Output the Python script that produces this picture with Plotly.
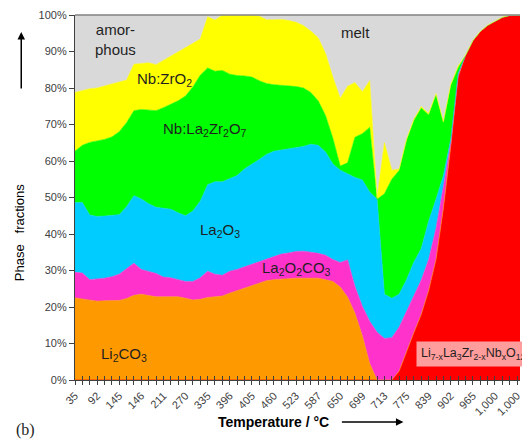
import plotly.graph_objects as go

# Phase fractions (%) at each measured step, bottom phase first
llzo = [0]*44 + [2.5, 8, 13, 18, 24.5, 33, 47, 64, 83, 89, 93, 95.5, 97.2, 98.3, 99.4, 99.9, 100, 100]

li2co3 = [22.5, 22.2, 21.8, 21.6, 21.7, 21.8, 21.8, 22.3, 23.2, 23.5,
          23.2, 22.8, 22.8, 22.9, 22.8, 22.4, 21.9, 22.1, 22.6, 22.8,
          23.0, 23.8, 24.5, 25.2, 25.9, 26.6, 27.2, 27.5, 27.7, 27.9,
          27.9, 27.9, 27.9, 27.9, 27.5, 27.0, 25.5, 22.7, 18.3, 12.1,
          4.5] + [0]*21

la2o2co3 = [7.0, 7.1, 5.7, 6.0, 6.2, 6.5, 7.2, 8.2, 8.8, 6.8,
            6.5, 6.4, 5.4, 5.1, 4.7, 4.6, 5.1, 5.9, 7.2, 6.2,
            5.7, 6.0, 5.8, 5.8, 5.8, 6.0, 6.1, 6.5, 6.8, 6.9,
            7.3, 7.4, 7.2, 6.8, 6.7, 6.0, 6.7, 10.2, 7.3, 8.1,
            11.6, 13.1, 11.4, 11.6, 12.0, 10.8, 10.3, 9.4, 8.5, 8.5,
            6.0, 1.0, 0.5] + [0]*9

la2o3 = [19.1, 19.3, 17.7, 17.2, 17.0, 16.8, 16.3, 17.0, 18.5, 19.3,
         18.6, 18.1, 18.8, 18.8, 18.3, 18.0, 19.3, 21.0, 23.7, 25.3,
         25.6, 25.4, 25.7, 26.8, 27.3, 27.8, 28.5, 28.7, 28.5, 28.5,
         28.4, 28.7, 29.5, 29.6, 28.3, 26.2, 25.3, 23.6, 29.9, 34.6,
         35.4, 36.4, 12.1, 10.8, 9.0, 8.7, 9.0, 8.6, 10.5, 8.0,
         3.0, 1.0, 0.5] + [0]*9

la2zr2o7 = [14.1, 15.7, 19.9, 20.6, 21.0, 21.5, 22.7, 23.0, 23.3, 24.5,
            25.7, 26.5, 27.6, 28.8, 30.7, 32.8, 34.0, 34.5, 32.0, 30.3,
            30.5, 28.6, 27.4, 25.5, 24.0, 21.6, 19.4, 18.2, 17.8, 17.3,
            16.8, 16.0, 14.2, 12.2, 10.0, 7.0, 1.1, 3.0, 11.0, 12.7,
            17.7, 0, 27.5, 32.6, 33.9, 38.1, 38.8, 38.5, 29.1, 28.6,
            14.4, 14.6, 1.5] + [0]*9

zro2 = [16.1, 15.1, 14.7, 14.6, 14.6, 14.4, 13.5, 11.7, 12.7, 12.7,
        12.9, 12.6, 13.0, 13.2, 13.5, 13.2, 12.0, 9.9, 14.0, 14.0,
        15.2, 16.2, 16.6, 16.7, 17.0, 17.7, 17.5, 17.8, 18.0, 17.9,
        17.6, 17.1, 16.8, 17.3, 17.0, 16.8, 18.6, 21.0, 15.0, 11.5,
        12.8, 0.5, 14.0, 2.5, 0.4, 0.4, 0.4, 0.4, 0.4, 0.4,
        0.4, 0.4, 0.5] + [0]*9

amorphous = [21.2, 20.6, 20.2, 20.0, 19.5, 19.0, 18.5, 17.8, 13.5, 13.2,
             13.1, 13.6, 12.4, 11.2, 10.0, 9.0, 7.7, 6.6, 0.5, 1.4,
             0, 0, 0, 0, 0, 0.3, 1.3, 1.3, 1.2, 1.5,
             2.0, 2.9, 4.4, 6.2, 10.5, 17.0, 22.8, 19.5, 18.5, 21.0,
             18.0, 50.0, 35.0, 42.5, 42.2, 34.0, 28.5, 25.1, 27.0, 21.5,
             29.2, 19.0, 14.0, 11.0, 7.0, 4.5, 2.8, 1.7, 0.6, 0.1, 0, 0]

# Temperature labels shown on every third step
temp_labels = ["35", "92", "145", "146", "211", "270", "335", "396", "405", "460",
               "523", "587", "650", "699", "713", "775", "839", "902", "965",
               "1,000", "1,000"]

steps = list(range(len(amorphous)))
label_steps = steps[::3][:len(temp_labels)]

layers = [
    (llzo, "#FF0000"),
    (li2co3, "#FF9900"),
    (la2o2co3, "#FF33CC"),
    (la2o3, "#00CCFF"),
    (la2zr2o7, "#00FF00"),
    (zro2, "#FFFF00"),
    (amorphous, "#D9D9D9"),
]

fig = go.Figure()
for vals, col in layers:
    fig.add_trace(go.Scatter(
        x=steps, y=vals, stackgroup="phases", mode="lines",
        line=dict(width=0.6, color=col), fillcolor=col,
        showlegend=False, hoverinfo="skip"))

FONT = "Liberation Sans, Arial, sans-serif"
TXT = "#1f1f1f"

fig.update_layout(
    width=522, height=439,
    margin=dict(l=75, r=0, t=15, b=59),
    paper_bgcolor="white", plot_bgcolor="white",
    font=dict(family=FONT, size=11, color="#404040"),
    xaxis=dict(
        range=[0, 60.4], tickmode="array", tickvals=label_steps, ticktext=temp_labels,
        tickangle=-45, ticks="outside", ticklen=4, tickcolor="#404040",
        ticklabeloverflow="allow",
        showline=True, linecolor="#404040", linewidth=1.2,
        showgrid=False, zeroline=False,
        minor=dict(tickmode="linear", tick0=0, dtick=1, ticks="outside",
                   ticklen=4, tickcolor="#404040"),
        tickfont=dict(size=11, color="#404040"),
    ),
    xaxis2=dict(
        range=[0, 60.4], overlaying="x", anchor="y", side="bottom",
        tickmode="linear", tick0=0, dtick=1, ticks="inside", ticklen=4,
        tickcolor="#404040", showticklabels=False, showgrid=False, zeroline=False,
    ),
    yaxis=dict(
        range=[0, 100], tickmode="linear", tick0=0, dtick=10, ticksuffix="%",
        ticks="outside", ticklen=5, tickcolor="#404040",
        showline=True, linecolor="#404040", linewidth=1.2,
        showgrid=False, zeroline=False,
        tickfont=dict(size=11, color="#404040"),
    ),
)

# invisible point on the overlay axis so its inward ticks are drawn
fig.add_trace(go.Scatter(x=[0], y=[0], xaxis="x2", mode="markers",
                         marker=dict(opacity=0), showlegend=False, hoverinfo="skip"))

# top border of the plot frame
fig.add_shape(type="line", xref="paper", yref="paper", x0=0, x1=1, y0=1, y1=1,
              line=dict(color="#808080", width=1.5))

phase_labels = [
    ("amor-<br>phous", 5.54, 93.4),
    ("melt", 38.1, 95.1),
    ("Nb:ZrO<sub>2</sub>", 12.2, 82.4),
    ("Nb:La<sub>2</sub>Zr<sub>2</sub>O<sub>7</sub>", 17.7, 68.6),
    ("La<sub>2</sub>O<sub>3</sub>", 19.7, 41.0),
    ("La<sub>2</sub>O<sub>2</sub>CO<sub>3</sub>", 30.0, 30.6),
    ("Li<sub>2</sub>CO<sub>3</sub>", 6.6, 7.0),
]
for text, xi, yv in phase_labels:
    fig.add_annotation(x=xi, y=yv, xref="x", yref="y", text=text, showarrow=False,
                       xanchor="center", yanchor="middle",
                       font=dict(family=FONT, size=15, color=TXT))

fig.add_annotation(x=46.35, y=7.2, xref="x", yref="y", xanchor="left", yanchor="middle",
                   text="Li<sub>7-x</sub>La<sub>3</sub>Zr<sub>2-x</sub>Nb<sub>x</sub>O<sub>12</sub>",
                   showarrow=False, bgcolor="#FF9C9C", borderpad=4,
                   font=dict(family=FONT, size=12.5, color=TXT))

# axis titles with direction arrows
fig.add_annotation(x=-0.123, y=0.403, xref="paper", yref="paper", textangle=-90,
                   xanchor="center", yanchor="middle",
                   text="Phase\u00a0\u00a0\u00a0fractions", showarrow=False,
                   font=dict(family=FONT, size=13, color="#000000"))
fig.add_annotation(x=-0.1208, y=0.9534, xref="paper", yref="paper", text="",
                   showarrow=True, ax=0, ay=58, arrowhead=2, arrowsize=1,
                   arrowwidth=1.5, arrowcolor="#000000")
fig.add_annotation(x=0.447, y=-0.115, xref="paper", yref="paper",
                   xanchor="center", yanchor="middle",
                   text="<b>Temperature / °C</b>", showarrow=False,
                   font=dict(family=FONT, size=14, color="#000000"))
fig.add_annotation(x=0.738, y=-0.115, xref="paper", yref="paper", text="",
                   showarrow=True, ax=-63, ay=0, arrowhead=2, arrowsize=1,
                   arrowwidth=1.5, arrowcolor="#000000")
fig.add_annotation(x=-0.112, y=-0.137, xref="paper", yref="paper", text="(b)",
                   xanchor="center", yanchor="middle", showarrow=False,
                   font=dict(family="Liberation Serif, serif", size=16, color="#222222"))

fig.write_html("out.html")
